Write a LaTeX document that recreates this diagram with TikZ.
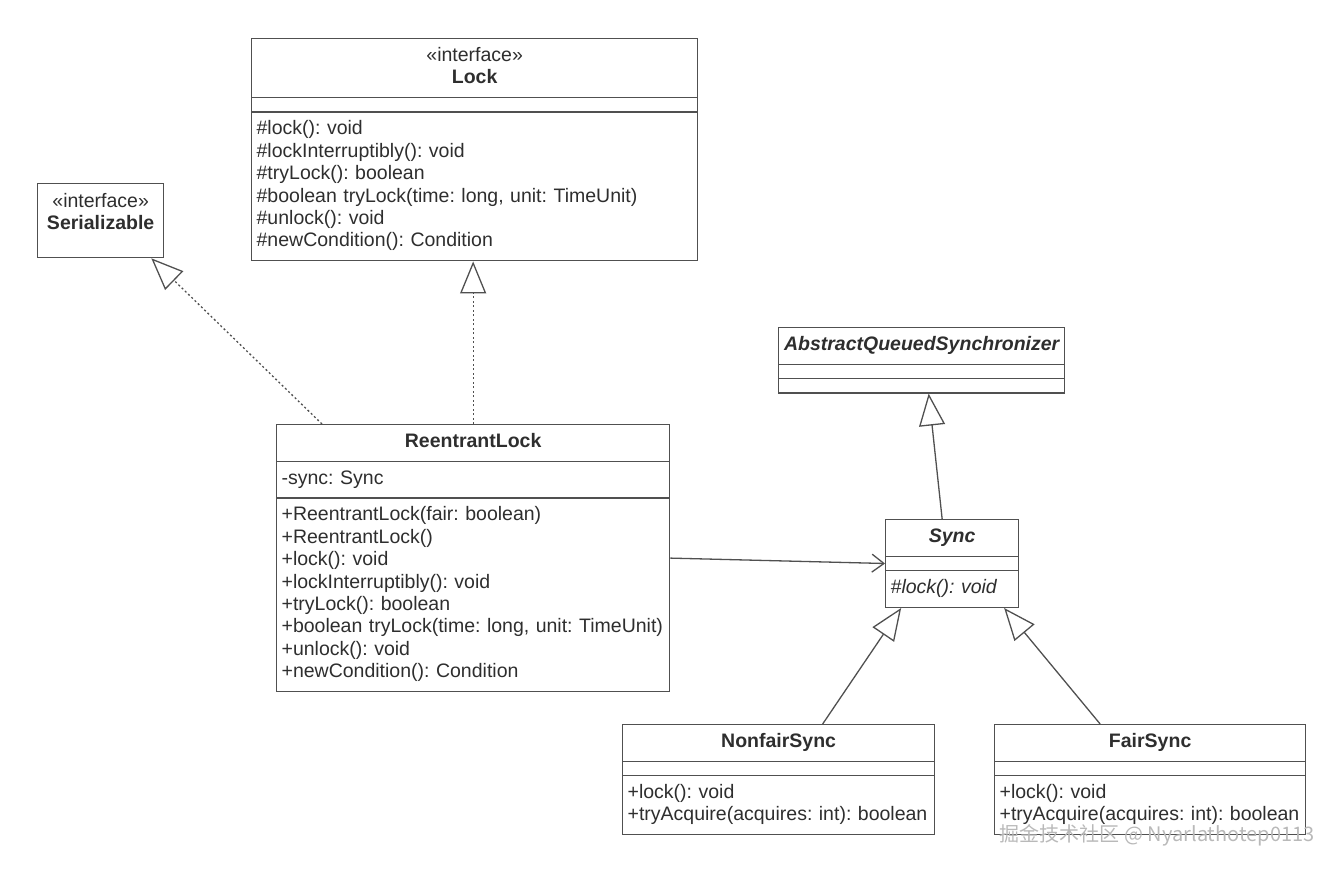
\documentclass[tikz,border=0pt]{standalone}
\usepackage{fontspec}
\setmainfont{Liberation Sans}
\newfontfamily\cjkfont{Noto Sans CJK SC}
\usepackage{tikz}
\usetikzlibrary{
    arrows.meta,
    positioning,
    shapes.multipart
}
\definecolor{umlline}{HTML}{505050}
\definecolor{umltext}{HTML}{2E2E2E}
\frenchspacing

\begin{document}
\begin{tikzpicture}[
    x=1pt, y=-1pt,
    umlfont/.style={font=\fontsize{19.5}{22.4}\selectfont},
    umlbox/.style={rectangle split, rectangle split parts=3, draw=umlline, line width=1.3pt, text=umltext, umlfont, align=left, inner xsep=5pt, inner ysep=6.5pt, rectangle split empty part height=0pt, rectangle split empty part depth=0pt, anchor=north west},
    plainbox/.style={rectangle, draw=umlline, line width=1.3pt, text=umltext, umlfont, align=center, anchor=north west},
    realarrow/.style={draw=umlline, line width=1.3pt, dash pattern=on 2pt off 2.5pt, -{Triangle[open, length=32pt, width=26pt]}},
    genarrow/.style={draw=umlline, line width=1.3pt, -{Triangle[open, length=32pt, width=26pt]}},
    assocarrow/.style={draw=umlline, line width=1.3pt, -{Straight Barb[length=12pt, width=18pt]}}
]
\useasboundingbox (0,0) rectangle (1340,872);

% Interfaces
\node[umlbox, text width=436pt] (lock) at (251,38) {\centering\strut«interface»\\\bfseries Lock\strut\par
    \nodepart{two}
    \nodepart{three}\strut\#lock(): void\\\#lockInterruptibly(): void\\\#tryLock(): boolean\\\#boolean tryLock(time: long, unit: TimeUnit)\\\#unlock(): void\\\#newCondition(): Condition\strut};

\node[plainbox, minimum width=126pt, minimum height=74pt] (serializable) at (37,183) {«interface»\\\textbf{Serializable}\\[-4pt]\mbox{}};

% ReentrantLock
\node[umlbox, text width=383pt] (reentrant) at (276,424) {\centering\strut\bfseries ReentrantLock\par
    \nodepart{two}\strut-sync: Sync
    \nodepart{three}\strut+ReentrantLock(fair: boolean)\\+ReentrantLock()\\+lock(): void\\+lockInterruptibly(): void\\+tryLock(): boolean\\+boolean tryLock(time: long, unit: TimeUnit)\\+unlock(): void\\+newCondition(): Condition\strut};

% Synchronizers
\node[umlbox, text width=276pt] (aqs) at (778,327) {\centering\strut\bfseries\itshape AbstractQueuedSynchronizer\par
    \nodepart{two}
    \nodepart{three}};

\node[umlbox, text width=123pt] (sync) at (885,519) {\centering\strut\bfseries\itshape Sync\par
    \nodepart{two}
    \nodepart{three}\strut\itshape\#lock(): void};

\node[umlbox, text width=302pt] (nonfair) at (622,724) {\centering\strut\bfseries NonfairSync\par
    \nodepart{two}
    \nodepart{three}\strut+lock(): void\\+tryAcquire(acquires: int): boolean\strut};

\node[umlbox, text width=301pt] (fair) at (994,724) {\centering\strut\bfseries FairSync\par
    \nodepart{two}
    \nodepart{three}\strut+lock(): void\\+tryAcquire(acquires: int): boolean\strut};

% Relations
\draw[realarrow] ([xshift=46pt]reentrant.north west) -- ([xshift=-13pt]serializable.south east);
\draw[realarrow] (reentrant.north) -- (reentrant.north |- lock.south);
\draw[genarrow] ([xshift=-10pt]sync.north) -- ([xshift=7pt]aqs.south);
\draw[assocarrow] (reentrant.east) -- (sync.west);
\draw[genarrow] ([xshift=44pt]nonfair.north) -- ([xshift=-51pt]sync.south);
\draw[genarrow] ([xshift=-50pt]fair.north) -- ([xshift=52pt]sync.south);

% Watermark
\node[font=\cjkfont\fontsize{20}{22}\selectfont, text=gray!55, anchor=east] (watermark) at (1318,835) {掘金技术社区 @ Nyarlathotep0113};

\end{tikzpicture}
\end{document}
